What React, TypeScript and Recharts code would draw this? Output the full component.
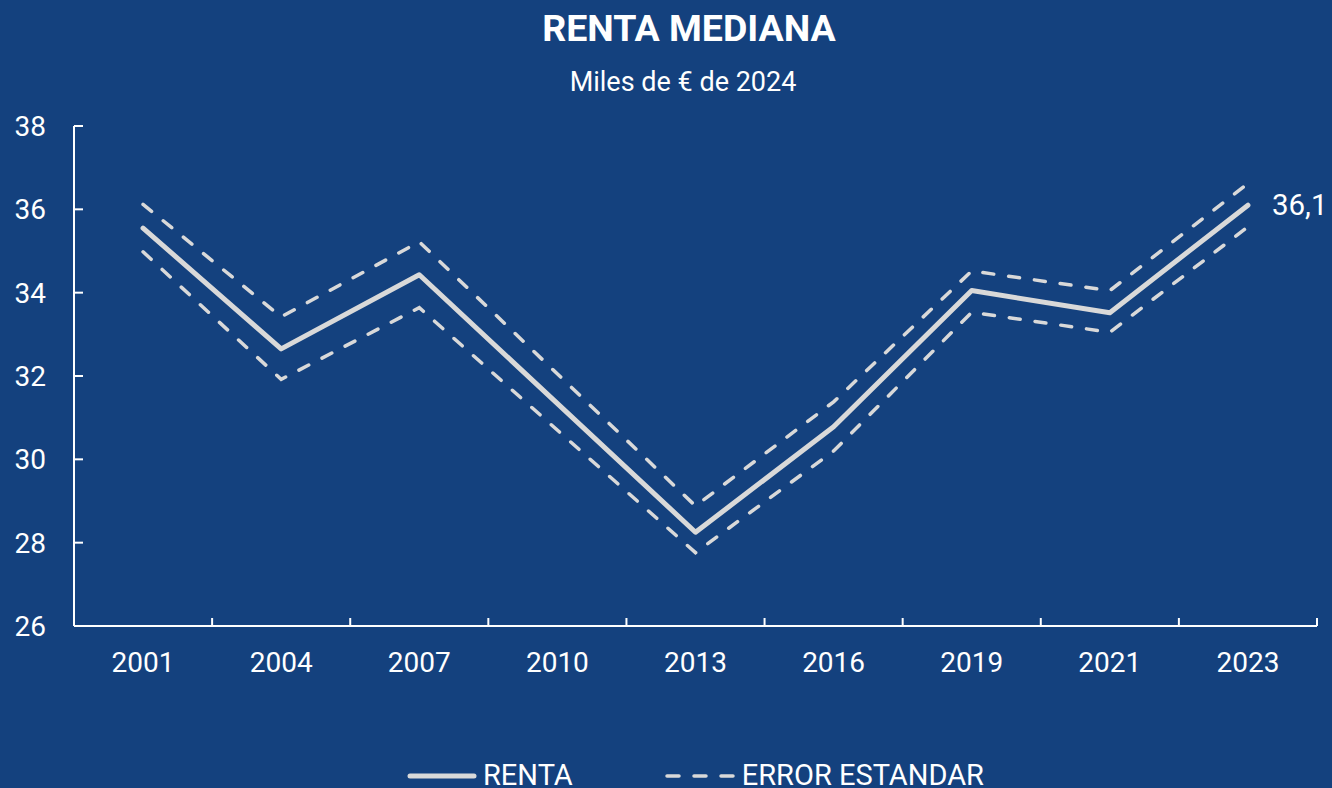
import { Legend, Line, LineChart, XAxis, YAxis } from "recharts"

const years = ["2001", "2004", "2007", "2010", "2013", "2016", "2019", "2021", "2023"]
const renta = [35.55, 32.65, 34.43, null, 28.25, 30.78, 34.05, 33.52, 36.1]
const errorUpper = [36.12, 33.42, 35.22, null, 28.88, 31.38, 34.52, 34.05, 36.62]
const errorLower = [34.98, 31.92, 33.64, null, 27.76, 30.2, 33.53, 33.05, 35.58]
const yTicks = [26, 28, 30, 32, 34, 36, 38]

const data = years.map((year, i) => ({
  year,
  renta: renta[i],
  upper: errorUpper[i],
  lower: errorLower[i],
}))

const W = 1332
const H = 788
const BG = "#14417E"
const LINE = "#D9D9D9"
const FONT = "Roboto, sans-serif"
const MARGIN = { top: 126, right: 15, left: 0, bottom: 102 }
const Y_W = 74
const PLOT_W = W - MARGIN.left - MARGIN.right - Y_W
const HALF_BAND = PLOT_W / years.length / 2

function XTick(props: any) {
  const { x, y, payload } = props
  return (
    <g>
      <line x1={x + HALF_BAND} x2={x + HALF_BAND} y1={y} y2={y - 8} stroke="#fff" strokeWidth={2} />
      <text x={x} y={y + 46} textAnchor="middle" fill="#fff" fontSize={28} fontFamily={FONT}>
        {payload.value}
      </text>
    </g>
  )
}

function YTick(props: any) {
  const { x, y, payload } = props
  return (
    <g>
      <line x1={x} x2={x + 9} y1={y} y2={y} stroke="#fff" strokeWidth={2} />
      <text x={x - 28} y={y} dy={10} textAnchor="end" fill="#fff" fontSize={28} fontFamily={FONT}>
        {payload.value}
      </text>
    </g>
  )
}

const lastIdx = years.length - 1

function EndLabel(props: any) {
  const { x, y, index, value } = props
  if (index !== lastIdx || value == null) return null
  return (
    <text x={x + 24} y={y} dy={10} fill="#fff" fontSize={29.5} fontFamily={FONT}>
      {Number(value).toFixed(1).replace(".", ",")}
    </text>
  )
}

function LegendContent() {
  return (
    <div
      style={{
        display: "flex",
        justifyContent: "center",
        alignItems: "center",
        fontFamily: FONT,
        fontSize: 29,
        lineHeight: 1,
        color: "#fff",
        whiteSpace: "nowrap",
      }}
    >
      <svg width={70} height={10}>
        <line x1={3} x2={67} y1={5} y2={5} stroke={LINE} strokeWidth={5} strokeLinecap="round" />
      </svg>
      <span style={{ marginLeft: 6 }}>RENTA</span>
      <svg width={73} height={10} style={{ marginLeft: 92 }}>
        <line
          x1={2}
          x2={71}
          y1={5}
          y2={5}
          stroke={LINE}
          strokeWidth={3.5}
          strokeDasharray="12 15"
          strokeLinecap="round"
        />
      </svg>
      <span style={{ marginLeft: 4 }}>ERROR ESTANDAR</span>
    </div>
  )
}

export default function App() {
  return (
    <div
      style={{
        position: "absolute",
        left: 0,
        top: 0,
        width: W,
        height: H,
        background: BG,
        overflow: "hidden",
      }}
    >
      <div
        style={{
          position: "absolute",
          top: 10,
          left: 489,
          width: 400,
          textAlign: "center",
          color: "#fff",
          fontFamily: FONT,
          fontWeight: 700,
          fontSize: 37.5,
          lineHeight: 1,
        }}
      >
        RENTA MEDIANA
      </div>
      <div
        style={{
          position: "absolute",
          top: 69,
          left: 483,
          width: 400,
          textAlign: "center",
          color: "#fff",
          fontFamily: FONT,
          fontSize: 27,
          lineHeight: 1,
        }}
      >
        Miles de € de 2024
      </div>
      <div style={{ position: "absolute", left: 0, top: 0 }}>
        <LineChart width={W} height={H} data={data} margin={MARGIN}>
          <XAxis
            dataKey="year"
            interval={0}
            padding={{ left: HALF_BAND, right: HALF_BAND }}
            height={60}
            tickSize={0}
            tickMargin={0}
            tickLine={false}
            axisLine={{ stroke: "#fff", strokeWidth: 2 }}
            tick={<XTick />}
          />
          <YAxis
            domain={[26, 38]}
            ticks={yTicks}
            interval={0}
            width={Y_W}
            tickSize={0}
            tickMargin={0}
            tickLine={false}
            axisLine={{ stroke: "#fff", strokeWidth: 2 }}
            tick={<YTick />}
          />
          <Legend
            layout="horizontal"
            align="center"
            verticalAlign="middle"
            wrapperStyle={{ left: Y_W, top: 761, width: PLOT_W }}
            content={<LegendContent />}
          />
          <Line
            dataKey="upper"
            stroke={LINE}
            strokeWidth={3.5}
            strokeDasharray="11 15"
            strokeLinecap="round"
            dot={false}
            activeDot={false}
            connectNulls
            isAnimationActive={false}
          />
          <Line
            dataKey="lower"
            stroke={LINE}
            strokeWidth={3.5}
            strokeDasharray="11 15"
            strokeLinecap="round"
            dot={false}
            activeDot={false}
            connectNulls
            isAnimationActive={false}
          />
          <Line
            dataKey="renta"
            stroke={LINE}
            strokeWidth={5}
            strokeLinecap="round"
            strokeLinejoin="round"
            dot={false}
            activeDot={false}
            connectNulls
            isAnimationActive={false}
            label={<EndLabel />}
          />
        </LineChart>
      </div>
    </div>
  )
}
